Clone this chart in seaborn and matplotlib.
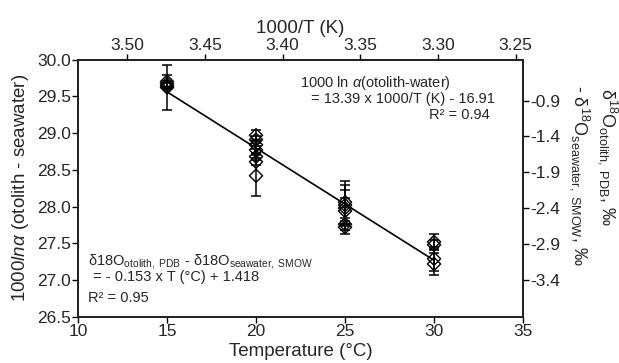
import matplotlib
matplotlib.use("Agg")
import matplotlib.pyplot as plt
import seaborn as sns
import pandas as pd

# ----------------------------
# Data
# ----------------------------
temps = [15, 15, 15, 15,
         20, 20, 20, 20, 20, 20, 20,
         25, 25, 25, 25, 25, 25,
         30, 30, 30, 30]
lna_values = [29.70, 29.67, 29.64, 29.62,
              28.97, 28.91, 28.84, 28.77, 28.68, 28.61, 28.42,
              28.06, 28.02, 27.98, 27.94, 27.76, 27.72,
              27.52, 27.48, 27.29, 27.22]
lna_errors = [0.09, 0.04, 0.04, 0.31,
              0.07, 0.05, 0.05, 0.05, 0.05, 0.05, 0.28,
              0.29, 0.27, 0.25, 0.18, 0.08, 0.09,
              0.11, 0.06, 0.16, 0.15]

fit_temps = [15, 30]
fit_values = [29.56, 27.27]

left_ticks = [26.5, 27.0, 27.5, 28.0, 28.5, 29.0, 29.5, 30.0]
bottom_ticks = [10, 15, 20, 25, 30, 35]
top_ticks = [3.50, 3.45, 3.40, 3.35, 3.30, 3.25]
right_ticks = [-0.9, -1.4, -1.9, -2.4, -2.9, -3.4]


def main():
    sns.set_theme(style="ticks")
    plt.rcParams["font.family"] = ["Liberation Sans", "DejaVu Sans"]
    plt.rcParams["mathtext.fontset"] = "custom"
    plt.rcParams["mathtext.rm"] = "Liberation Sans"
    plt.rcParams["mathtext.it"] = "Liberation Sans:italic"
    plt.rcParams["axes.unicode_minus"] = False

    df = pd.DataFrame({"T": temps, "lna": lna_values, "err": lna_errors})
    fit = pd.DataFrame({"T": fit_temps, "lna": fit_values})

    fig = plt.figure(figsize=(6.19, 3.63), dpi=100)
    ax = fig.add_axes([0.126, 0.127, 0.719, 0.709])

    # regression line
    sns.lineplot(data=fit, x="T", y="lna", color="black", lw=1.2, ax=ax)

    # error bars + open diamonds
    ax.errorbar(df["T"], df["lna"], yerr=df["err"], fmt="none",
                ecolor="black", elinewidth=1.1, capsize=3.5, capthick=1.1)
    sns.scatterplot(data=df, x="T", y="lna", marker="D", s=45,
                    facecolor="none", edgecolor="black", linewidth=1.0,
                    ax=ax, zorder=3)

    ax.set_xlim(10, 35)
    ax.set_ylim(26.5, 30.0)
    ax.set_xticks(bottom_ticks)
    ax.set_yticks(left_ticks)
    ax.set_yticklabels([f"{t:.1f}" for t in left_ticks])
    ax.set_xlabel("Temperature (°C)", fontsize=13.5, labelpad=3)
    ax.set_ylabel(r"1000$\mathit{ln\alpha}$ (otolith - seawater)",
                  fontsize=13.5, labelpad=4)
    ax.tick_params(labelsize=12.5, length=4, width=1, color="black", pad=1)

    # top axis: 1000/T (K)
    ax_top = ax.twiny()
    ax_top.set_xlim(1000 / (10 + 273.15), 1000 / (35 + 273.15))
    ax_top.set_xticks(top_ticks)
    ax_top.set_xticklabels([f"{t:.2f}" for t in top_ticks])
    ax_top.set_xlabel("1000/T (K)", fontsize=13.5, labelpad=3)
    ax_top.tick_params(labelsize=12.5, length=4, width=1, color="black", pad=1)

    # right axis: delta values
    ax_right = ax.twinx()
    ax_right.set_ylim(-3.92, -0.325)
    ax_right.set_yticks(right_ticks)
    ax_right.set_yticklabels([f"{t:.1f}" for t in right_ticks])
    ax_right.tick_params(labelsize=12.5, length=4, width=1, color="black", pad=1)

    # two-line right label, written top to bottom
    fig.text(0.982, 0.758, r"δ$^{18}$O$_{\mathregular{otolith,\ PDB}}$, ‰",
             rotation=270, ha="center", va="top", fontsize=13)
    fig.text(0.937, 0.765, r"- δ$^{18}$O$_{\mathregular{seawater,\ SMOW}}$, ‰",
             rotation=270, ha="center", va="top", fontsize=13)

    for a in (ax, ax_top, ax_right):
        for sp in a.spines.values():
            sp.set_color("#222222")
            sp.set_linewidth(1.2)
            sp.set_visible(True)

    # equations
    ax.text(0.499, 0.909, r"1000 ln $\alpha$(otolith-water)",
            transform=ax.transAxes, fontsize=10.5, va="center", ha="left")
    ax.text(0.524, 0.845, "= 13.39 x 1000/T (K) - 16.91",
            transform=ax.transAxes, fontsize=10.5, va="center", ha="left")
    ax.text(0.926, 0.784, "R² = 0.94",
            transform=ax.transAxes, fontsize=10.5, va="center", ha="right")

    ax.text(0.0225, 0.214,
            r"δ18O$_{\mathregular{otolith,\ PDB}}$ - δ18O$_{\mathregular{seawater,\ SMOW}}$",
            transform=ax.transAxes, fontsize=10.5, va="center", ha="left")
    ax.text(0.034, 0.155, "= - 0.153 x T (°C) + 1.418",
            transform=ax.transAxes, fontsize=10.5, va="center", ha="left")
    ax.text(0.0225, 0.074, "R² = 0.95",
            transform=ax.transAxes, fontsize=10.5, va="center", ha="left")

    fig.savefig("out.png", dpi=100)


if __name__ == "__main__":
    main()
